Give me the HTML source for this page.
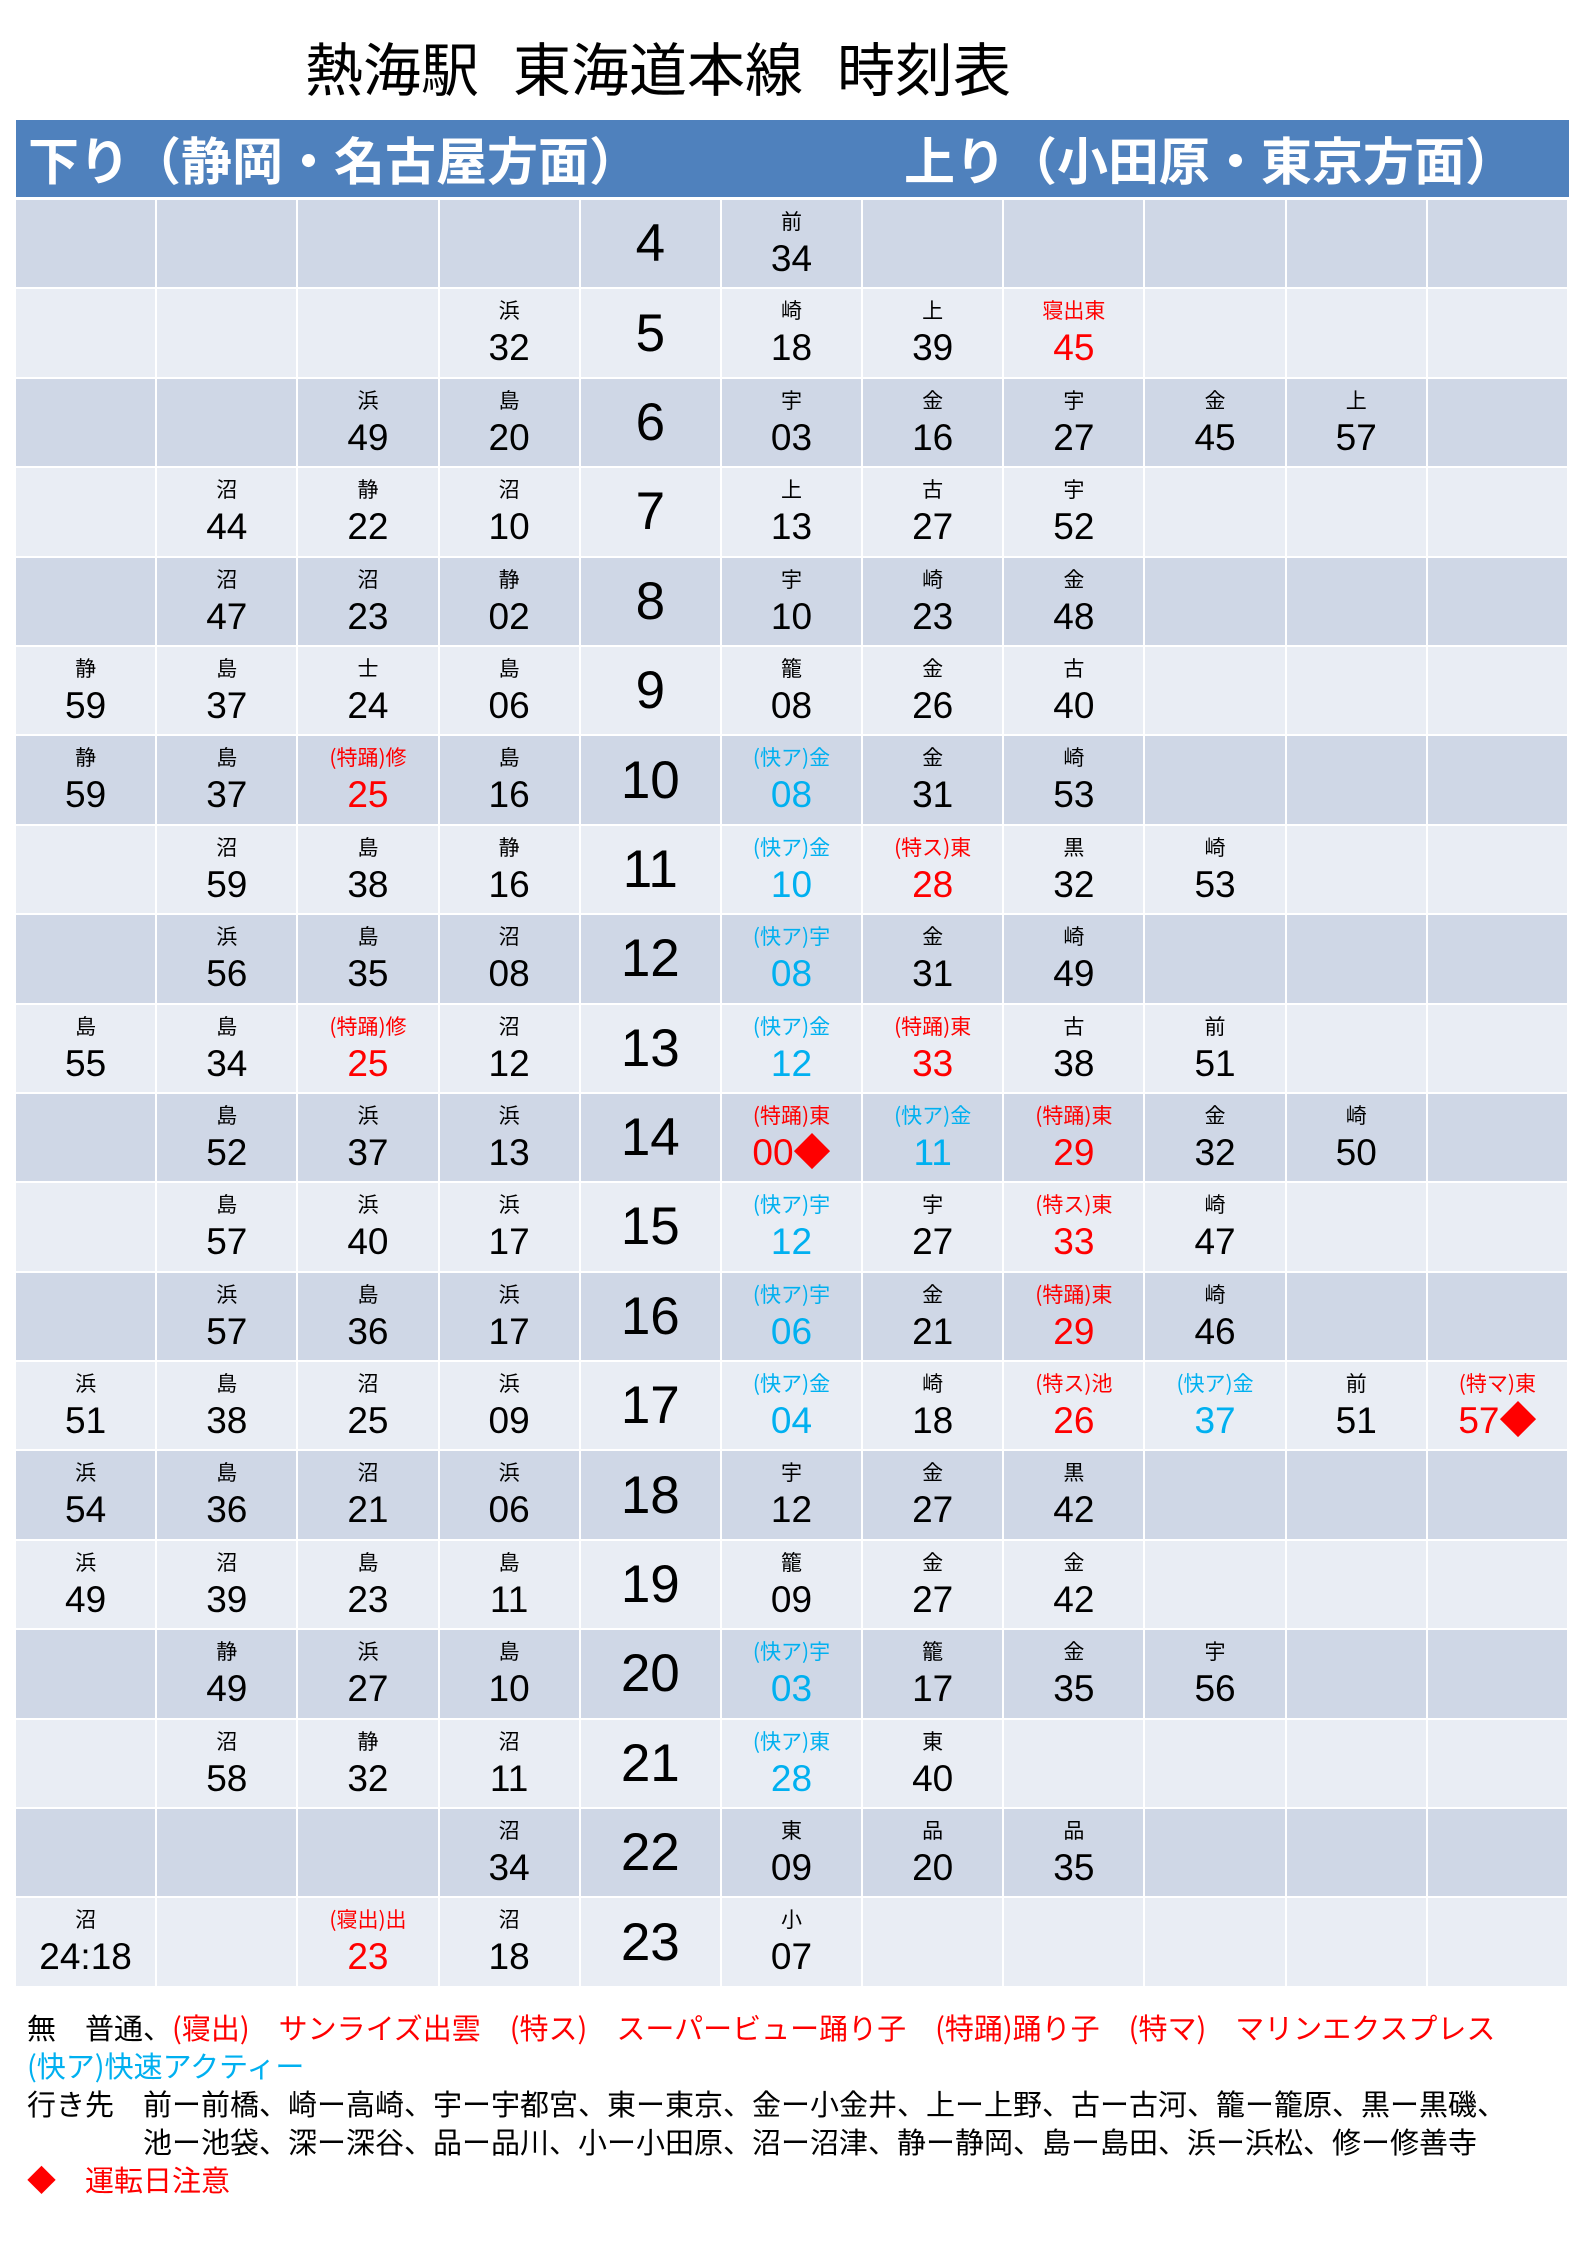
<!DOCTYPE html>
<html><head><meta charset="utf-8"><style>
body{margin:0;width:1587px;height:2245px;background:#fff;font-family:"Liberation Sans","Noto Sans CJK JP",sans-serif;position:relative;overflow:hidden}
.title{position:absolute;left:305px;top:26px;font-size:58px;color:#000;font-family:"Noto Sans CJK JP",sans-serif;white-space:pre;line-height:80px}
.title span{display:inline-block;margin-right:34px}
.hdr{position:absolute;left:16px;top:120px;width:1553px;height:77px;background:#4f81bd;color:#fff;font-weight:bold;font-size:51px;font-family:"Noto Sans CJK JP",sans-serif}
.hdr span{position:absolute;top:2px;line-height:72px}
.grid{position:absolute;left:16px;top:200px;width:1553px;display:grid;grid-template-columns:repeat(11,1fr);grid-auto-rows:89.4px}
.c{border-right:2px solid #fff;border-bottom:2px solid #fff;display:flex;flex-direction:column;align-items:center;color:#000}
.d{background:#cfd7e6}.l{background:#e9edf4}
.c i{font-style:normal;font-size:21px;margin-top:6px;height:30px;line-height:30px;font-family:"Noto Sans CJK JP",sans-serif}
.c b{font-weight:normal;font-size:37px;line-height:46px}
.c.h{justify-content:center;font-size:53px}
.r{color:#ff0000}.u{color:#00b0f0}
.leg{position:absolute;left:27px;font-size:29px;font-family:"Noto Sans CJK JP",sans-serif;white-space:pre;line-height:38px}
</style></head><body>
<div class="title"><span>熱海駅</span><span>東海道本線</span>時刻表</div>
<div class="hdr"><span style="left:12px">下り（静岡・名古屋方面）</span><span style="left:888px">上り（小田原・東京方面）</span></div>
<div class="grid">
<div class="c d"></div><div class="c d"></div><div class="c d"></div><div class="c d"></div><div class="c d h">4</div><div class="c d"><i>前</i><b>34</b></div><div class="c d"></div><div class="c d"></div><div class="c d"></div><div class="c d"></div><div class="c d"></div>
<div class="c l"></div><div class="c l"></div><div class="c l"></div><div class="c l"><i>浜</i><b>32</b></div><div class="c l h">5</div><div class="c l"><i>崎</i><b>18</b></div><div class="c l"><i>上</i><b>39</b></div><div class="c l r"><i>寝出東</i><b>45</b></div><div class="c l"></div><div class="c l"></div><div class="c l"></div>
<div class="c d"></div><div class="c d"></div><div class="c d"><i>浜</i><b>49</b></div><div class="c d"><i>島</i><b>20</b></div><div class="c d h">6</div><div class="c d"><i>宇</i><b>03</b></div><div class="c d"><i>金</i><b>16</b></div><div class="c d"><i>宇</i><b>27</b></div><div class="c d"><i>金</i><b>45</b></div><div class="c d"><i>上</i><b>57</b></div><div class="c d"></div>
<div class="c l"></div><div class="c l"><i>沼</i><b>44</b></div><div class="c l"><i>静</i><b>22</b></div><div class="c l"><i>沼</i><b>10</b></div><div class="c l h">7</div><div class="c l"><i>上</i><b>13</b></div><div class="c l"><i>古</i><b>27</b></div><div class="c l"><i>宇</i><b>52</b></div><div class="c l"></div><div class="c l"></div><div class="c l"></div>
<div class="c d"></div><div class="c d"><i>沼</i><b>47</b></div><div class="c d"><i>沼</i><b>23</b></div><div class="c d"><i>静</i><b>02</b></div><div class="c d h">8</div><div class="c d"><i>宇</i><b>10</b></div><div class="c d"><i>崎</i><b>23</b></div><div class="c d"><i>金</i><b>48</b></div><div class="c d"></div><div class="c d"></div><div class="c d"></div>
<div class="c l"><i>静</i><b>59</b></div><div class="c l"><i>島</i><b>37</b></div><div class="c l"><i>士</i><b>24</b></div><div class="c l"><i>島</i><b>06</b></div><div class="c l h">9</div><div class="c l"><i>籠</i><b>08</b></div><div class="c l"><i>金</i><b>26</b></div><div class="c l"><i>古</i><b>40</b></div><div class="c l"></div><div class="c l"></div><div class="c l"></div>
<div class="c d"><i>静</i><b>59</b></div><div class="c d"><i>島</i><b>37</b></div><div class="c d r"><i>(特踊)修</i><b>25</b></div><div class="c d"><i>島</i><b>16</b></div><div class="c d h">10</div><div class="c d u"><i>(快ア)金</i><b>08</b></div><div class="c d"><i>金</i><b>31</b></div><div class="c d"><i>崎</i><b>53</b></div><div class="c d"></div><div class="c d"></div><div class="c d"></div>
<div class="c l"></div><div class="c l"><i>沼</i><b>59</b></div><div class="c l"><i>島</i><b>38</b></div><div class="c l"><i>静</i><b>16</b></div><div class="c l h">11</div><div class="c l u"><i>(快ア)金</i><b>10</b></div><div class="c l r"><i>(特ス)東</i><b>28</b></div><div class="c l"><i>黒</i><b>32</b></div><div class="c l"><i>崎</i><b>53</b></div><div class="c l"></div><div class="c l"></div>
<div class="c d"></div><div class="c d"><i>浜</i><b>56</b></div><div class="c d"><i>島</i><b>35</b></div><div class="c d"><i>沼</i><b>08</b></div><div class="c d h">12</div><div class="c d u"><i>(快ア)宇</i><b>08</b></div><div class="c d"><i>金</i><b>31</b></div><div class="c d"><i>崎</i><b>49</b></div><div class="c d"></div><div class="c d"></div><div class="c d"></div>
<div class="c l"><i>島</i><b>55</b></div><div class="c l"><i>島</i><b>34</b></div><div class="c l r"><i>(特踊)修</i><b>25</b></div><div class="c l"><i>沼</i><b>12</b></div><div class="c l h">13</div><div class="c l u"><i>(快ア)金</i><b>12</b></div><div class="c l r"><i>(特踊)東</i><b>33</b></div><div class="c l"><i>古</i><b>38</b></div><div class="c l"><i>前</i><b>51</b></div><div class="c l"></div><div class="c l"></div>
<div class="c d"></div><div class="c d"><i>島</i><b>52</b></div><div class="c d"><i>浜</i><b>37</b></div><div class="c d"><i>浜</i><b>13</b></div><div class="c d h">14</div><div class="c d r"><i>(特踊)東</i><b>00◆</b></div><div class="c d u"><i>(快ア)金</i><b>11</b></div><div class="c d r"><i>(特踊)東</i><b>29</b></div><div class="c d"><i>金</i><b>32</b></div><div class="c d"><i>崎</i><b>50</b></div><div class="c d"></div>
<div class="c l"></div><div class="c l"><i>島</i><b>57</b></div><div class="c l"><i>浜</i><b>40</b></div><div class="c l"><i>浜</i><b>17</b></div><div class="c l h">15</div><div class="c l u"><i>(快ア)宇</i><b>12</b></div><div class="c l"><i>宇</i><b>27</b></div><div class="c l r"><i>(特ス)東</i><b>33</b></div><div class="c l"><i>崎</i><b>47</b></div><div class="c l"></div><div class="c l"></div>
<div class="c d"></div><div class="c d"><i>浜</i><b>57</b></div><div class="c d"><i>島</i><b>36</b></div><div class="c d"><i>浜</i><b>17</b></div><div class="c d h">16</div><div class="c d u"><i>(快ア)宇</i><b>06</b></div><div class="c d"><i>金</i><b>21</b></div><div class="c d r"><i>(特踊)東</i><b>29</b></div><div class="c d"><i>崎</i><b>46</b></div><div class="c d"></div><div class="c d"></div>
<div class="c l"><i>浜</i><b>51</b></div><div class="c l"><i>島</i><b>38</b></div><div class="c l"><i>沼</i><b>25</b></div><div class="c l"><i>浜</i><b>09</b></div><div class="c l h">17</div><div class="c l u"><i>(快ア)金</i><b>04</b></div><div class="c l"><i>崎</i><b>18</b></div><div class="c l r"><i>(特ス)池</i><b>26</b></div><div class="c l u"><i>(快ア)金</i><b>37</b></div><div class="c l"><i>前</i><b>51</b></div><div class="c l r"><i>(特マ)東</i><b>57◆</b></div>
<div class="c d"><i>浜</i><b>54</b></div><div class="c d"><i>島</i><b>36</b></div><div class="c d"><i>沼</i><b>21</b></div><div class="c d"><i>浜</i><b>06</b></div><div class="c d h">18</div><div class="c d"><i>宇</i><b>12</b></div><div class="c d"><i>金</i><b>27</b></div><div class="c d"><i>黒</i><b>42</b></div><div class="c d"></div><div class="c d"></div><div class="c d"></div>
<div class="c l"><i>浜</i><b>49</b></div><div class="c l"><i>沼</i><b>39</b></div><div class="c l"><i>島</i><b>23</b></div><div class="c l"><i>島</i><b>11</b></div><div class="c l h">19</div><div class="c l"><i>籠</i><b>09</b></div><div class="c l"><i>金</i><b>27</b></div><div class="c l"><i>金</i><b>42</b></div><div class="c l"></div><div class="c l"></div><div class="c l"></div>
<div class="c d"></div><div class="c d"><i>静</i><b>49</b></div><div class="c d"><i>浜</i><b>27</b></div><div class="c d"><i>島</i><b>10</b></div><div class="c d h">20</div><div class="c d u"><i>(快ア)宇</i><b>03</b></div><div class="c d"><i>籠</i><b>17</b></div><div class="c d"><i>金</i><b>35</b></div><div class="c d"><i>宇</i><b>56</b></div><div class="c d"></div><div class="c d"></div>
<div class="c l"></div><div class="c l"><i>沼</i><b>58</b></div><div class="c l"><i>静</i><b>32</b></div><div class="c l"><i>沼</i><b>11</b></div><div class="c l h">21</div><div class="c l u"><i>(快ア)東</i><b>28</b></div><div class="c l"><i>東</i><b>40</b></div><div class="c l"></div><div class="c l"></div><div class="c l"></div><div class="c l"></div>
<div class="c d"></div><div class="c d"></div><div class="c d"></div><div class="c d"><i>沼</i><b>34</b></div><div class="c d h">22</div><div class="c d"><i>東</i><b>09</b></div><div class="c d"><i>品</i><b>20</b></div><div class="c d"><i>品</i><b>35</b></div><div class="c d"></div><div class="c d"></div><div class="c d"></div>
<div class="c l"><i>沼</i><b>24:18</b></div><div class="c l"></div><div class="c l r"><i>(寝出)出</i><b>23</b></div><div class="c l"><i>沼</i><b>18</b></div><div class="c l h">23</div><div class="c l"><i>小</i><b>07</b></div><div class="c l"></div><div class="c l"></div><div class="c l"></div><div class="c l"></div><div class="c l"></div>
</div>
<div class="leg" style="top:2008px">無　普通、<span class="r">(寝出)　サンライズ出雲　(特ス)　スーパービュー踊り子　(特踊)踊り子　(特マ)　マリンエクスプレス</span></div>
<div class="leg u" style="top:2046px">(快ア)快速アクティー</div>
<div class="leg" style="top:2084px">行き先　前ー前橋、崎ー高崎、宇ー宇都宮、東ー東京、金ー小金井、上ー上野、古ー古河、籠ー籠原、黒ー黒磯、</div>
<div class="leg" style="top:2122px">　　　　池ー池袋、深ー深谷、品ー品川、小ー小田原、沼ー沼津、静ー静岡、島ー島田、浜ー浜松、修ー修善寺</div>
<div class="leg r" style="top:2160px">◆　運転日注意</div>
</body></html>
